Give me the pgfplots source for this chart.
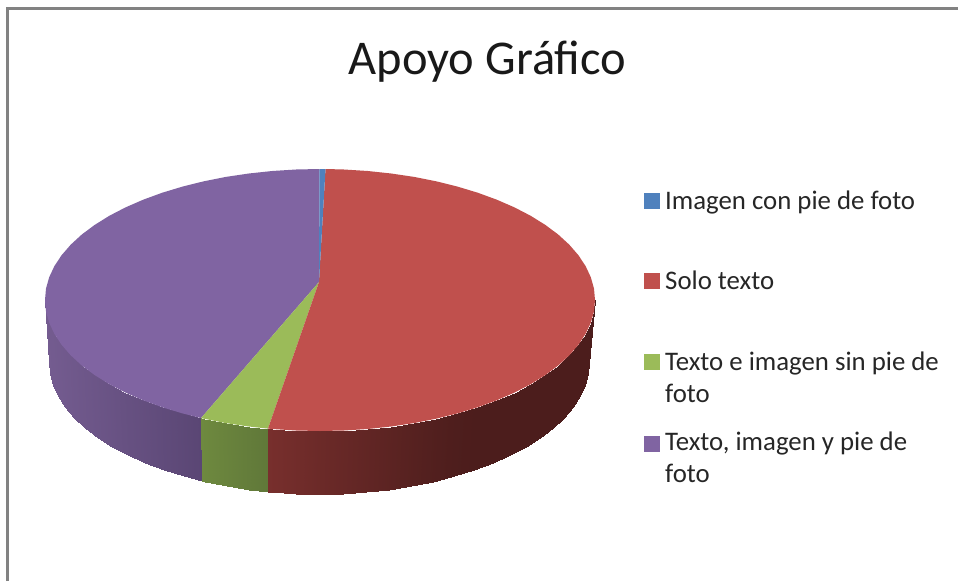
\documentclass[border=0pt]{standalone}
\usepackage{pgfplots}
\pgfplotsset{compat=1.18}
\usepackage{fontspec}
\setmainfont{Carlito}
\definecolor{cblue}{RGB}{79,129,189}
\definecolor{cred}{RGB}{192,80,77}
\definecolor{cgreen}{RGB}{155,187,89}
\definecolor{cpurple}{RGB}{128,100,162}
\definecolor{framegray}{RGB}{130,130,130}
% side wall, top edge and bottom edge in turn, c = shade
\pgfplotstableread{
x y c
45 300 0
49 362 0
46 311.4 .01
50 373.5 .01
49.2 322.8 .03
53.1 384.9 .03
54.4 333.9 .06
58.2 396.2 .06
61.6 344.8 .11
65.2 407.1 .11
70.8 355.4 .17
74.3 417.8 .17
81.8 365.5 .24
85.2 428 .24
94.7 375.1 .32
97.8 437.7 .32
109.3 384.2 .41
112.2 446.9 .41
125.5 392.6 .52
128.1 455.3 .52
143.2 400.3 .62
145.4 463.1 .62
162.3 407.3 .75
164.1 470.1 .75
182.5 413.4 .88
184 476.3 .88
201 418.1 1
202.2 481 1
}\sidepurple
\pgfplotstableread{
x y c
201 418.1 2
202.2 481 2
203.8 418.7 2.04
204.9 481.6 2.04
225.9 423.1 2.37
226.7 486 2.37
248.8 426.5 2.72
249.1 489.5 2.72
268 428.6 3
268 491.6 3
}\sidegreen
\pgfplotstableread{
x y c
268 428.6 4
268 491.6 4
272.2 429 4.03
272 492 4.03
296 430.5 4.15
295.5 493.5 4.15
320 431 4.28
319 494 4.28
344 430.5 4.4
342.5 493.5 4.4
367.8 429 4.52
366 492 4.52
391.2 426.5 4.64
388.9 489.5 4.64
414.1 423.1 4.76
411.3 486 4.76
436.2 418.7 4.87
433.1 481.6 4.87
457.5 413.4 4.96
454 476.3 4.96
477.7 407.3 5
473.9 470.1 5
496.8 400.3 5
492.6 463.1 5
514.5 392.6 5
509.9 455.3 5
530.7 384.2 5
525.8 446.9 5
545.3 375.1 5
540.2 437.7 5
558.2 365.5 5
552.8 428 5
569.2 355.4 5
563.7 417.8 5
578.4 344.8 5
572.8 407.1 5
585.6 333.9 5
579.8 396.2 5
590.8 322.8 5
584.9 384.9 5
594 311.4 5
588 373.5 5
595 300 5
589 362 5
}\sidered
\begin{document}
\begin{tikzpicture}
\begin{axis}[
  scale only axis, width=958pt, height=581pt,
  xmin=0, xmax=958, ymin=0, ymax=581, y dir=reverse,
  hide axis, clip=true,
  point meta min=0, point meta max=5,
  colormap={sides}{
    rgb255(0cm)=(116,92,144) rgb255(1cm)=(90,70,116)
    rgb255(2cm)=(110,137,63) rgb255(3cm)=(96,120,57)
    rgb255(4cm)=(120,47,45) rgb255(5cm)=(76,29,28)
  },
]
% page background and the frame of the screenshot
\addplot[draw=none, fill=white, forget plot] coordinates {(0,0) (958,0) (958,581) (0,581)} -- cycle;
\addplot[draw=framegray, line width=3pt, forget plot] coordinates {(7,581) (7,8) (958,8)};

% side wall
\addplot[surf, shader=interp, mesh/cols=2, forget plot, point meta=\thisrow{c}] table[x=x, y=y] {\sidepurple};
\addplot[surf, shader=interp, mesh/cols=2, forget plot, point meta=\thisrow{c}] table[x=x, y=y] {\sidegreen};
\addplot[surf, shader=interp, mesh/cols=2, forget plot, point meta=\thisrow{c}] table[x=x, y=y] {\sidered};

% top face
\addplot[fill=cpurple, draw=none, forget plot] coordinates {
 (319,282) (201,418.1) (182.5,413.4) (162.3,407.3) (143.2,400.3) (125.5,392.6) (109.3,384.2)
 (94.7,375.1) (81.8,365.5) (70.8,355.4) (61.6,344.8) (54.4,333.9) (49.2,322.8) (46,311.4)
 (45,300) (46,288.6) (49.2,277.2) (54.4,266.1) (61.6,255.2) (70.8,244.6) (81.8,234.5)
 (94.7,224.9) (109.3,215.8) (125.5,207.4) (143.2,199.7) (162.3,192.7) (182.5,186.6)
 (203.8,181.3) (225.9,176.9) (248.8,173.5) (272.2,171) (296,169.5) (319.5,169)
} -- cycle;
\addplot[fill=cgreen, draw=none, forget plot] coordinates {
 (319,282) (268,428.6) (248.8,426.5) (225.9,423.1) (203.8,418.7) (201,418.1)
} -- cycle;
\addplot[fill=cred, draw=none, forget plot] coordinates {
 (319,282) (325.5,169) (344,169.5) (367.8,171) (391.2,173.5) (414.1,176.9) (436.2,181.3)
 (457.5,186.6) (477.7,192.7) (496.8,199.7) (514.5,207.4) (530.7,215.8) (545.3,224.9)
 (558.2,234.5) (569.2,244.6) (578.4,255.2) (585.6,266.1) (590.8,277.2) (594,288.6)
 (595,300) (594,311.4) (590.8,322.8) (585.6,333.9) (578.4,344.8) (569.2,355.4)
 (558.2,365.5) (545.3,375.1) (530.7,384.2) (514.5,392.6) (496.8,400.3) (477.7,407.3)
 (457.5,413.4) (436.2,418.7) (414.1,423.1) (391.2,426.5) (367.8,429) (344,430.5)
 (320,431) (296,430.5) (272.2,429) (268,428.6)
} -- cycle;
\addplot[fill=cblue, draw=none, forget plot] coordinates {
 (319,282) (319.5,169) (325.5,169)
} -- cycle;

% legend keys
\addplot[only marks, mark=square*, mark size=7.5pt, color=cblue, forget plot] coordinates {(651.5,201)};
\addplot[only marks, mark=square*, mark size=7.5pt, color=cred, forget plot] coordinates {(651.5,281)};
\addplot[only marks, mark=square*, mark size=7.5pt, color=cgreen, forget plot] coordinates {(651.5,362)};
\addplot[only marks, mark=square*, mark size=7.5pt, color=cpurple, forget plot] coordinates {(651.5,443.5)};

\node[anchor=base, inner sep=0pt, font=\fontsize{48.5}{58}\selectfont, text=black!90] at (axis cs:487.5,74) {Apoyo Gráfico};
\begin{scope}[every node/.style={anchor=base west, inner sep=0pt, text=black!85, font=\fontsize{26.8}{32}\selectfont}]
\node at (axis cs:665,209) {Imagen con pie de foto};
\node at (axis cs:665,289) {Solo texto};
\node at (axis cs:665,370) {Texto e imagen sin pie de};
\node at (axis cs:665,402) {foto};
\node at (axis cs:665,450) {Texto, imagen y pie de};
\node at (axis cs:665,482) {foto};
\end{scope}
\end{axis}
\end{tikzpicture}
\end{document}
